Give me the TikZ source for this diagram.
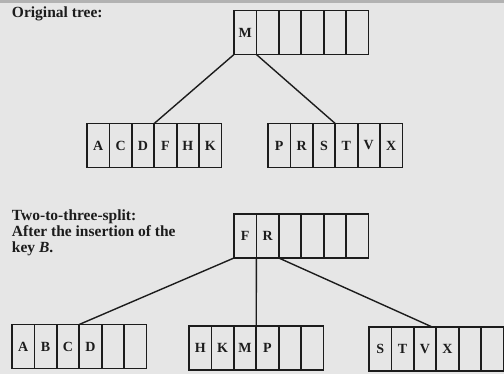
\documentclass[tikz,border=0pt]{standalone}
\usepackage{fontspec}
\setmainfont{Liberation Serif}
\definecolor{bg}{HTML}{E6E6E6}
\definecolor{strip}{HTML}{B2B2B2}
\definecolor{ink}{HTML}{1C1C1C}
\tikzset{
  cell/.style={draw=ink, line width=1.8pt, fill=bg, minimum width=22.4pt,
    minimum height=44pt, inner sep=0pt, outer sep=0pt, text=ink,
    font=\bfseries\fontsize{14}{14}\selectfont},
  conn/.style={draw=ink, line width=1.4pt},
  lbl/.style={inner sep=0pt, outer sep=0pt, text=ink, align=left,
    font=\bfseries\fontsize{15.5}{16}\selectfont}
}
\newcommand\recrow[4]{%
  \foreach \l [count=\i] in {#4} {
    \node[cell, anchor=north west] (#1-\i) at ({#2+(\i-1)*22.4},#3) {\l};
  }%
}
\begin{document}
\begin{tikzpicture}[x=1pt,y=-1pt]
  \useasboundingbox (0,0) rectangle (504,374);
  \fill[bg] (0,0) rectangle (504,374);
  \fill[strip] (0,0) rectangle (504,3);

  % labels
  \node[lbl, anchor=base west] (lab1) at (12,18) {Original tree:};
  \node[lbl, anchor=base west] (lab2) at (12,253)
    {Two-to-three-split:\\After the insertion of the\\key \textit{B}.};

  % original tree
  \recrow{T1}{234}{10.5}{M,{},{},{},{},{}}
  \recrow{L1}{87}{123.5}{A,C,D,F,H,K}
  \recrow{R1}{268}{123.5}{P,R,S,T,V,X}
  \draw[conn] (T1-1.south west) -- (L1-4.north west);
  \draw[conn] (T1-1.south east) -- (R1-4.north west);

  % after split
  \recrow{T2}{234}{214}{F,R,{},{},{},{}}
  \recrow{A2}{12}{324.5}{A,B,C,D,{},{}}
  \recrow{B2}{189}{326}{H,K,M,P,{},{}}
  \recrow{C2}{369}{327}{S,T,V,X,{},{}}
  \draw[conn] (T2-1.south west) -- (A2-4.north west);
  \draw[conn] (T2-1.south east) -- (B2-4.north west);
  \draw[conn] (T2-2.south east) -- ([xshift=-4pt]C2-4.north west);
\end{tikzpicture}
\end{document}
